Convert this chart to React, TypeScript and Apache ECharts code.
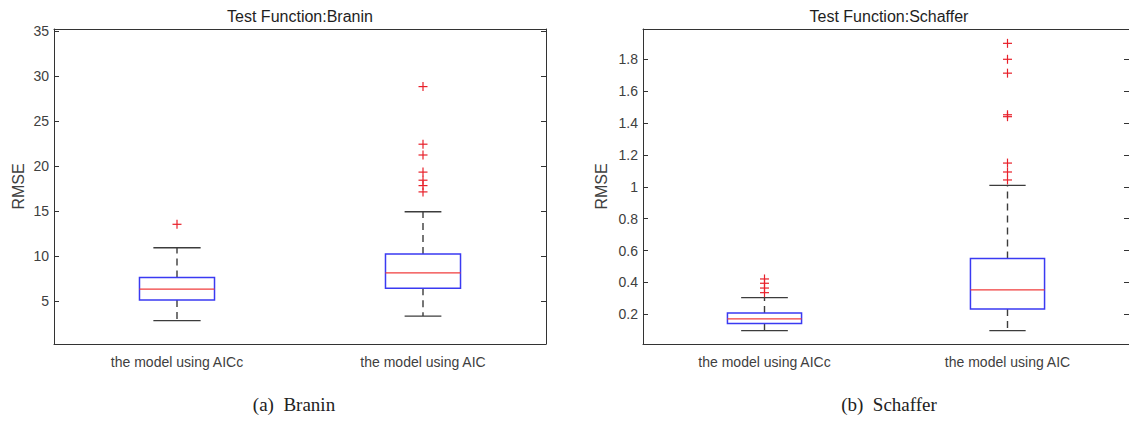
import React, { useEffect, useRef } from "react";
import * as echarts from "echarts";

const categories = ["the model using AICc", "the model using AIC"];

// [min whisker, Q1, median, Q3, max whisker]
const braninBoxes = [
  [2.8, 5.1, 6.3, 7.6, 10.9],
  [3.3, 6.4, 8.1, 10.2, 14.9],
];
const braninOutliers = [
  [13.5],
  [28.8, 22.4, 21.2, 19.3, 18.4, 17.8, 17.1],
];
const braninTicks = [5, 10, 15, 20, 25, 30, 35];

const schafferBoxes = [
  [0.098, 0.142, 0.171, 0.209, 0.305],
  [0.098, 0.234, 0.353, 0.551, 1.009],
];
const schafferOutliers = [
  [0.422, 0.395, 0.365, 0.336],
  [1.9, 1.8, 1.713, 1.452, 1.44, 1.149, 1.093, 1.043],
];
const schafferTicks = [0.2, 0.4, 0.6, 0.8, 1, 1.2, 1.4, 1.6, 1.8];

const capRatio = [0.63, 0.49];
const AX = "#333333";
const TXT = "#404040";
const FONT = "Liberation Sans, Arial, sans-serif";

function boxSeries(boxes: number[][], idx: number) {
  return {
    type: "custom",
    xAxisIndex: idx * 2,
    yAxisIndex: idx * 2,
    data: boxes.map((b, i) => [i, ...b]),
    encode: { x: 0, y: [1, 2, 3, 4, 5] },
    renderItem: (params: any, api: any) => {
      const x = api.value(0);
      const pMin = api.coord([x, api.value(1)]);
      const pQ1 = api.coord([x, api.value(2)]);
      const pMed = api.coord([x, api.value(3)]);
      const pQ3 = api.coord([x, api.value(4)]);
      const pMax = api.coord([x, api.value(5)]);
      const band = api.size([1, 0])[0];
      const bw = band * 0.305;
      const cw = bw * capRatio[params.dataIndex];
      const cx = pMed[0];
      return {
        type: "group",
        children: [
          { type: "line", shape: { x1: cx, y1: pQ3[1], x2: cx, y2: pMax[1] }, style: { stroke: "#3c3c3c", lineWidth: 1.4, lineDash: [7, 5] } },
          { type: "line", shape: { x1: cx, y1: pQ1[1], x2: cx, y2: pMin[1] }, style: { stroke: "#3c3c3c", lineWidth: 1.4, lineDash: [7, 5] } },
          { type: "line", shape: { x1: cx - cw / 2, y1: pMax[1], x2: cx + cw / 2, y2: pMax[1] }, style: { stroke: "#3c3c3c", lineWidth: 1.4 } },
          { type: "line", shape: { x1: cx - cw / 2, y1: pMin[1], x2: cx + cw / 2, y2: pMin[1] }, style: { stroke: "#3c3c3c", lineWidth: 1.4 } },
          { type: "rect", shape: { x: cx - bw / 2, y: pQ3[1], width: bw, height: pQ1[1] - pQ3[1] }, style: { fill: "none", stroke: "#3a3af2", lineWidth: 1.5 } },
          { type: "line", shape: { x1: cx - bw / 2, y1: pMed[1], x2: cx + bw / 2, y2: pMed[1] }, style: { stroke: "#f03c3c", lineWidth: 1.3 } },
        ],
      };
    },
  };
}

function outlierSeries(outs: number[][], idx: number) {
  const data: number[][] = [];
  outs.forEach((arr, i) => arr.forEach((v) => data.push([i, v])));
  return {
    type: "custom",
    xAxisIndex: idx * 2,
    yAxisIndex: idx * 2,
    data,
    encode: { x: 0, y: 1 },
    renderItem: (params: any, api: any) => {
      const p = api.coord([api.value(0), api.value(1)]);
      const h = 4.5;
      return {
        type: "group",
        children: [
          { type: "line", shape: { x1: p[0] - h, y1: p[1], x2: p[0] + h, y2: p[1] }, style: { stroke: "#e8202a", lineWidth: 1.2 } },
          { type: "line", shape: { x1: p[0], y1: p[1] - h, x2: p[0], y2: p[1] + h }, style: { stroke: "#e8202a", lineWidth: 1.2 } },
        ],
      };
    },
  };
}

function xAxes(gridIndex: number) {
  return [
    {
      type: "category",
      gridIndex,
      data: categories,
      position: "bottom",
      axisLine: { lineStyle: { color: AX, width: 1 } },
      axisTick: { inside: true, alignWithLabel: true, length: 5, lineStyle: { color: AX } },
      axisLabel: { color: TXT, fontSize: 14, fontFamily: FONT, margin: 11 },
      splitLine: { show: false },
    },
    {
      type: "category",
      gridIndex,
      data: categories,
      position: "top",
      axisLine: { lineStyle: { color: AX, width: 1 } },
      axisTick: { inside: true, alignWithLabel: true, length: 5, lineStyle: { color: AX } },
      axisLabel: { show: false },
      splitLine: { show: false },
    },
  ];
}

function yAxes(gridIndex: number, min: number, max: number, ticks: number[], nameGap: number) {
  return [
    {
      type: "value",
      gridIndex,
      min,
      max,
      position: "left",
      name: "RMSE",
      nameLocation: "middle",
      nameGap,
      nameTextStyle: { color: TXT, fontSize: 16, fontFamily: FONT },
      axisLine: { show: true, lineStyle: { color: AX, width: 1 } },
      axisTick: { show: true, inside: true, length: 5, customValues: ticks, lineStyle: { color: AX } },
      axisLabel: { color: TXT, fontSize: 14, fontFamily: FONT, margin: 5, customValues: ticks },
      splitLine: { show: false },
    },
    {
      type: "value",
      gridIndex,
      min,
      max,
      position: "right",
      axisLine: { show: true, lineStyle: { color: AX, width: 1 } },
      axisTick: { show: true, inside: true, length: 5, customValues: ticks, lineStyle: { color: AX } },
      axisLabel: { show: false },
      splitLine: { show: false },
    },
  ];
}

export default function App() {
  const ref = useRef<HTMLDivElement>(null);
  useEffect(() => {
    if (!ref.current) return;
    const chart = echarts.init(ref.current, null, { renderer: "svg" });
    chart.setOption({
      animation: false,
      backgroundColor: "#ffffff",
      grid: [
        { left: 54, top: 29, right: 583, bottom: 77 },
        { left: 643, top: 29, right: -6, bottom: 77 },
      ],
      xAxis: [...xAxes(0), ...xAxes(1)],
      yAxis: [...yAxes(0, 0.2, 35.2, braninTicks, 28), ...yAxes(1, 0.014, 1.99, schafferTicks, 34)],
      series: [
        boxSeries(braninBoxes, 0),
        outlierSeries(braninOutliers, 0),
        boxSeries(schafferBoxes, 1),
        outlierSeries(schafferOutliers, 1),
      ],
      graphic: [
        { type: "text", x: 300, y: 16, style: { text: "Test Function:Branin", font: `16px ${FONT}`, fill: "#1e1e1e", textAlign: "center", textVerticalAlign: "middle" } },
        { type: "text", x: 889, y: 16, style: { text: "Test Function:Schaffer", font: `16px ${FONT}`, fill: "#1e1e1e", textAlign: "center", textVerticalAlign: "middle" } },
        { type: "text", x: 294, y: 404, style: { text: "(a)  Branin", font: `19px "Liberation Serif", serif`, fill: "#222", textAlign: "center", textVerticalAlign: "middle" } },
        { type: "text", x: 889, y: 404, style: { text: "(b)  Schaffer", font: `19px "Liberation Serif", serif`, fill: "#222", textAlign: "center", textVerticalAlign: "middle" } },
      ],
    });
    return () => chart.dispose();
  }, []);
  return <div ref={ref} style={{ position: "fixed", left: 0, top: 0, width: 1129, height: 421 }} />;
}
